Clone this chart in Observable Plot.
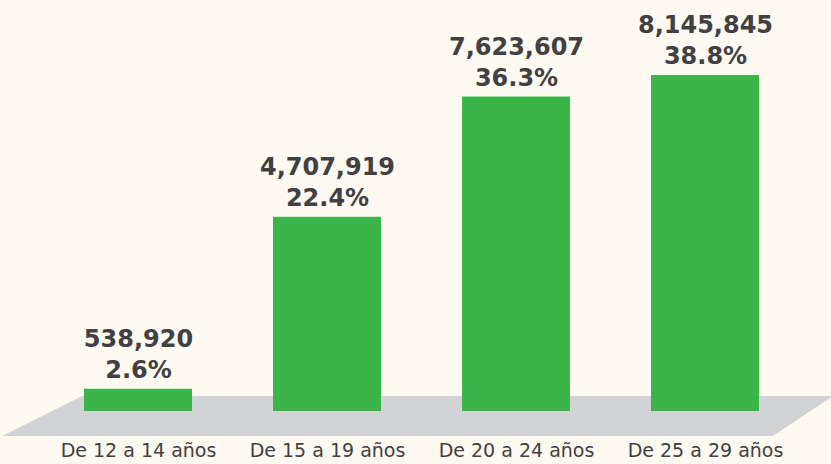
<!DOCTYPE html>
<html>
<head>
<meta charset="utf-8">
<script src="https://cdn.jsdelivr.net/npm/d3@7"></script>
<script src="https://cdn.jsdelivr.net/npm/@observablehq/plot@0.6"></script>
<style>
  html, body { margin: 0; padding: 0; background: #fefaf2; }
  #chart svg { display: block; }
</style>
</head>
<body>
<div id="chart"></div>
<script>
const categories = ["De 12 a 14 años", "De 15 a 19 años", "De 20 a 24 años", "De 25 a 29 años"];
const counts = [538920, 4707919, 7623607, 8145845];
const shares = [2.6, 22.4, 36.3, 38.8];

const data = categories.map((c, i) => ({category: c, count: counts[i], share: shares[i]}));

const textColor = "#414042";
const green = "#3bb54a";
const floorColor = "#d1d3d4";

// decorative floor (parallelogram) under the bars, placed from the frame dimensions
function floor(index, scales, values, dimensions, context) {
  const base = dimensions.height - dimensions.marginBottom;
  const top = base - 15, bottom = base + 25;
  const xl = scales.x(categories[0]) - 2;
  const pts = [[xl, top], [dimensions.width + 2, top], [dimensions.width - 58, bottom], [xl - 80, bottom]];
  const poly = context.document.createElementNS("http://www.w3.org/2000/svg", "polygon");
  poly.setAttribute("points", pts.map(p => p.join(",")).join(" "));
  poly.setAttribute("fill", floorColor);
  return poly;
}

const fmt = d3.format(",");

const chart = Plot.plot({
  width: 831,
  height: 464,
  marginTop: 75,
  marginBottom: 53,
  marginLeft: 43.5,
  marginRight: 31.5,
  style: {background: "#fefaf2", overflow: "visible"},
  x: {domain: categories, paddingInner: 0.43, paddingOuter: 0.215, label: null},
  y: {domain: [0, d3.max(counts)], axis: null},
  marks: [
    floor,
    Plot.barY(data, {x: "category", y: "count", fill: green}),
    Plot.text(data, {
      x: "category", y: "count", text: d => fmt(d.count),
      dy: -50, fontSize: 24, fontWeight: "bold", fill: textColor,
      fontFamily: "DejaVu Sans"
    }),
    Plot.text(data, {
      x: "category", y: "count", text: d => d.share.toFixed(1) + "%",
      dy: -19, fontSize: 24, fontWeight: "bold", fill: textColor,
      fontFamily: "DejaVu Sans"
    }),
    Plot.axisX({
      tickSize: 0, tickPadding: 32, fontSize: 19, color: textColor,
      fontFamily: "DejaVu Sans", label: null
    })
  ]
});

document.getElementById("chart").append(chart);
</script>
</body>
</html>
